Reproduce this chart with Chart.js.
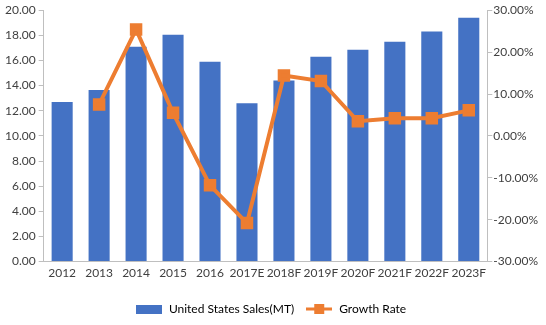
<!DOCTYPE html>
<html>
<head>
<meta charset="utf-8">
<script src="https://cdn.jsdelivr.net/npm/chart.js@4/dist/chart.umd.min.js"></script>
<style>
  html, body { margin: 0; padding: 0; background: #fff; }
  #wrap { width: 546px; height: 325px; }
</style>
</head>
<body>
<div id="wrap"><canvas id="chart"></canvas></div>
<script>
// DATA
const years = ["2012", "2013", "2014", "2015", "2016", "2017E", "2018F", "2019F", "2020F", "2021F", "2022F", "2023F"];
const sales = [12.7, 13.65, 17.1, 18.05, 15.9, 12.6, 14.4, 16.3, 16.85, 17.5, 18.3, 19.4];
const growth = [null, 7.5, 25.4, 5.5, -11.8, -20.8, 14.4, 13.1, 3.5, 4.2, 4.2, 6.1];

const BLUE = "#4472C4";
const ORANGE = "#ED7D31";
const AXIS = "#bfbfbf";
const FONT = { family: "Lato", size: 12 };

// legend icons
function barIcon() {
    const c = document.createElement("canvas");
    c.width = 26; c.height = 9;
    const g = c.getContext("2d");
    g.fillStyle = BLUE;
    g.fillRect(0, 0, 26, 9);
    return c;
}
function lineIcon() {
    const c = document.createElement("canvas");
    c.width = 26; c.height = 10;
    const g = c.getContext("2d");
    g.fillStyle = ORANGE;
    g.fillRect(0, 3.5, 26, 3);
    g.fillRect(8, 0, 10, 10);
    return c;
}

new Chart(document.getElementById("chart"), {
    data: {
        labels: years,
        datasets: [
            {
                type: "line",
                label: "Growth Rate",
                data: growth,
                yAxisID: "y1",
                borderColor: ORANGE,
                backgroundColor: ORANGE,
                borderWidth: 4,
                pointStyle: "rect",
                pointRadius: 6,
                pointHoverRadius: 6,
                tension: 0,
                order: 0
            },
            {
                type: "bar",
                label: "United States Sales(MT)",
                data: sales,
                yAxisID: "y",
                backgroundColor: BLUE,
                barPercentage: 0.57,
                categoryPercentage: 1,
                order: 1
            }
        ]
    },
    options: {
        responsive: true,
        maintainAspectRatio: false,
        animation: false,
        layout: { padding: { top: 4, right: 7, left: 2, bottom: 0 } },
        plugins: {
            tooltip: { enabled: false },
            legend: {
                position: "bottom",
                labels: {
                    usePointStyle: true,
                    pointStyleWidth: 28,
                    color: "#404040",
                    font: FONT,
                    padding: 11,
                    generateLabels: () => [
                        { text: "United States Sales(MT)", pointStyle: barIcon(), fillStyle: BLUE, strokeStyle: BLUE, lineWidth: 0, datasetIndex: 1 },
                        { text: "Growth Rate", pointStyle: lineIcon(), fillStyle: ORANGE, strokeStyle: ORANGE, lineWidth: 0, datasetIndex: 0 }
                    ]
                }
            }
        },
        scales: {
            x: {
                grid: { display: false, drawTicks: false },
                border: { color: AXIS },
                ticks: { color: "#404040", font: FONT, maxRotation: 0, autoSkip: false, padding: 4 },
                afterFit: s => { s.height += 8; }
            },
            y: {
                position: "left",
                min: 0, max: 20,
                grid: { drawOnChartArea: false, drawTicks: true, tickLength: 5, color: AXIS },
                border: { color: AXIS },
                ticks: { stepSize: 2, color: "#404040", font: FONT, callback: v => v.toFixed(2) }
            },
            y1: {
                position: "right",
                min: -30, max: 30,
                grid: { drawOnChartArea: false, drawTicks: true, tickLength: 5, color: AXIS },
                border: { color: AXIS },
                ticks: { stepSize: 10, padding: 1, color: "#404040", font: FONT, callback: v => v.toFixed(2) + "%" }
            }
        }
    }
});
</script>
</body>
</html>
